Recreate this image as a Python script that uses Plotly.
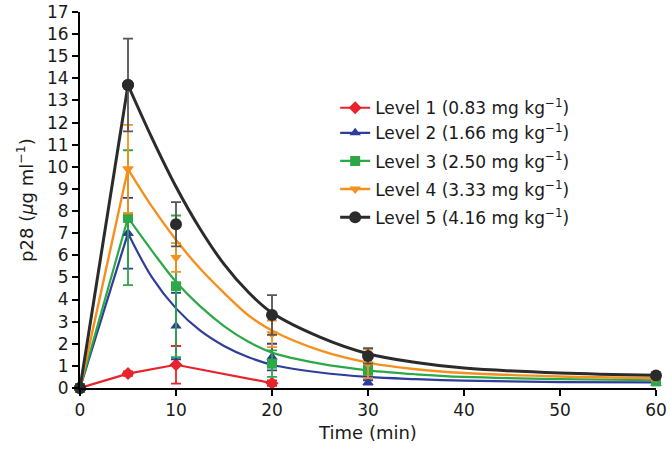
import plotly.graph_objects as go

# ---- data ----
times = [0, 5, 10, 20, 30, 60]
level_names = [
    "Level 1 (0.83 mg kg<sup>−1</sup>)",
    "Level 2 (1.66 mg kg<sup>−1</sup>)",
    "Level 3 (2.50 mg kg<sup>−1</sup>)",
    "Level 4 (3.33 mg kg<sup>−1</sup>)",
    "Level 5 (4.16 mg kg<sup>−1</sup>)",
]
level1_t = [0, 5, 10, 20]
level1_v = [0, 0.65, 1.05, 0.22]
level1_e = [0, 0.1, 0.85, 0.12]

level2_v = [0, 7.0, 2.8, 1.4, 0.25, 0.2]
level2_e = [0, 1.6, 1.5, 0.6, 0.1, 0.05]
level3_v = [0, 7.7, 4.6, 1.1, 0.8, 0.3]
level3_e = [0, 3.05, 3.2, 0.6, 0.2, 0.1]
level4_v = [0, 9.9, 5.9, 2.45, 1.1, 0.45]
level4_e = [0, 2.0, 0.65, 0.6, 0.65, 0.1]
level5_v = [0, 13.7, 7.4, 3.3, 1.45, 0.57]
level5_e = [0, 2.1, 1.0, 0.9, 0.35, 0.05]

# fitted decay curves
fit_t = [5, 7.5, 10, 12.5, 15, 17.5, 20, 25, 30, 35, 40, 50, 60]
fit2 = [7.0, 5.0, 3.6, 2.6, 1.9, 1.4, 1.05, 0.7, 0.5, 0.4, 0.33, 0.27, 0.25]
fit3 = [7.7, 6.2, 4.8, 3.7, 2.8, 2.1, 1.6, 1.1, 0.8, 0.62, 0.5, 0.4, 0.35]
fit4 = [9.9, 8.2, 6.7, 5.4, 4.3, 3.3, 2.6, 1.7, 1.15, 0.85, 0.68, 0.52, 0.45]
fit5 = [13.7, 11.3, 9.1, 7.2, 5.6, 4.35, 3.4, 2.3, 1.55, 1.15, 0.9, 0.68, 0.58]

y_ticks = list(range(0, 18))
x_ticks = [0, 10, 20, 30, 40, 50, 60]

colors = ["#e8232b", "#2e3d99", "#2ca846", "#f5901e", "#2b2b2b"]
symbols = ["diamond", "triangle-up", "square", "triangle-down", "circle"]
err_colors = ["#e8232b", "#2e3d99", "#2ca846", "#f5901e", "#555555"]
widths = [2.2, 2.2, 2.2, 2.4, 3]
msizes = [10, 10, 10, 10, 12]

fig = go.Figure()

# Level 1: straight lines through data
fig.add_trace(go.Scatter(
    x=level1_t, y=level1_v, mode="lines+markers", name=level_names[0],
    line=dict(color=colors[0], width=widths[0]),
    marker=dict(symbol=symbols[0], size=msizes[0], color=colors[0]),
    error_y=dict(type="data", array=level1_e, color=err_colors[0], thickness=1.8, width=5),
    cliponaxis=False, legendgroup="l1"))

vals = [level2_v, level3_v, level4_v, level5_v]
errs = [level2_e, level3_e, level4_e, level5_e]
fits = [fit2, fit3, fit4, fit5]

for i in range(4):
    k = i + 1
    fig.add_trace(go.Scatter(
        x=fit_t, y=fits[i], mode="lines",
        line=dict(color=colors[k], width=widths[k], shape="spline", smoothing=1.0),
        showlegend=False, cliponaxis=False, legendgroup=f"l{k}", hoverinfo="skip"))
for i in range(4):
    k = i + 1
    fig.add_trace(go.Scatter(
        x=times[:2], y=vals[i][:2], mode="lines+markers", name=level_names[k],
        line=dict(color=colors[k], width=widths[k]),
        marker=dict(symbol=symbols[k], size=msizes[k], color=colors[k]),
        cliponaxis=False, legendgroup=f"l{k}"))
for i in range(4):
    k = i + 1
    fig.add_trace(go.Scatter(
        x=times, y=vals[i], mode="markers", showlegend=False,
        marker=dict(symbol=symbols[k], size=msizes[k], color=colors[k]),
        error_y=dict(type="data", array=errs[i], color=err_colors[k], thickness=1.8, width=5),
        cliponaxis=False, legendgroup=f"l{k}"))

font_family = "DejaVu Sans, sans-serif"
fig.update_layout(
    width=670, height=449,
    margin=dict(l=80, r=14, t=12, b=61),
    paper_bgcolor="white", plot_bgcolor="white",
    font=dict(family=font_family, size=17, color="#1a1a1a"),
    legend=dict(x=0.443, y=0.792, xanchor="left", yanchor="top",
                font=dict(size=17), bgcolor="rgba(0,0,0,0)", tracegroupgap=3,
                traceorder="grouped", itemwidth=30),
    showlegend=True,
)
fig.update_xaxes(range=[0, 60], tickvals=x_ticks,
                 showline=True, linecolor="black", linewidth=2,
                 ticks="outside", ticklen=6, tickwidth=2, tickcolor="black",
                 showgrid=False, zeroline=False, automargin=False,
                 ticklabeloverflow="allow",
                 title=dict(text="Time (min)", standoff=7, font=dict(size=18)),
                 tickfont=dict(size=17))
fig.update_yaxes(range=[0, 17], tickvals=y_ticks,
                 showline=True, linecolor="black", linewidth=2,
                 ticks="outside", ticklen=6, tickwidth=2, tickcolor="black",
                 showgrid=False, zeroline=False, automargin=False,
                 ticklabeloverflow="allow",
                 title=dict(text="p28 (<i>µ</i>g ml<sup>−1</sup>)", standoff=9, font=dict(size=18)),
                 tickfont=dict(size=17))

# remove the default 8px page margin so the figure fills the window exactly
fig.write_html("out.html", config={"displayModeBar": False},
               post_script="document.body.style.margin='0';")
